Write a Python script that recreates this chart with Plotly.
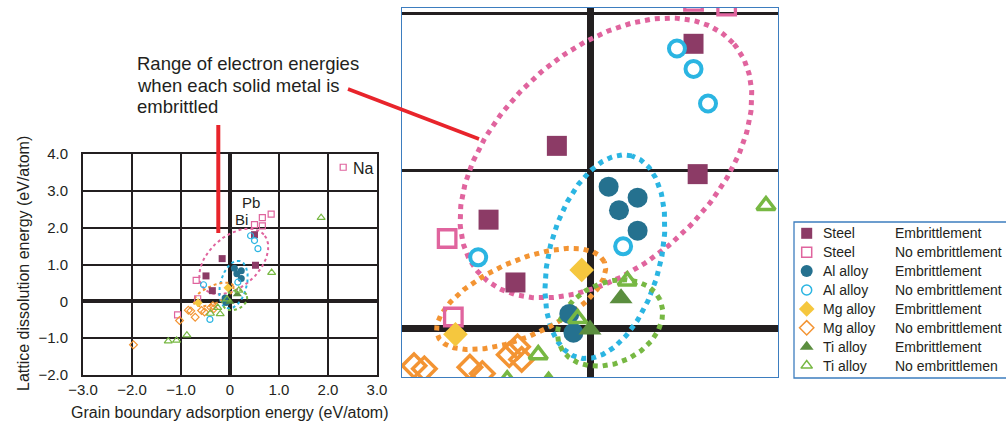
import numpy as np
import plotly.graph_objects as go

W, H = 1006, 426
FONT = "Liberation Sans, Arial, sans-serif"
INK = "#231f20"

# ---------------- data (eV/atom) ----------------
# x = grain boundary adsorption energy, y = lattice dissolution energy
steel_emb_x = [0.50, -0.16, 0.52, -0.49, -0.36]
steel_emb_y = [1.81, 1.16, 0.98, 0.69, 0.29]
steel_no_x = [0.50, 0.66, 0.66, 0.84, -0.69, -0.66, -1.07, 2.31]
steel_no_y = [2.08, 2.05, 2.27, 2.37, 0.57, 0.07, -0.37, 3.64]
al_emb_x = [0.09, 0.23, 0.14, 0.23, -0.10, -0.08]
al_emb_y = [0.90, 0.83, 0.75, 0.62, 0.09, -0.03]
al_no_x = [0.42, 0.50, 0.57, 0.16, -0.54, -0.41]
al_no_y = [1.78, 1.65, 1.43, 0.52, 0.45, -0.49]
mg_emb_x = [-0.04, -0.65]
mg_emb_y = [0.37, -0.04]
mg_no_x = [-1.97, -1.03, -0.85, -0.80, -0.71, -0.58, -0.52, -0.39, -0.35, -0.33]
mg_no_y = [-1.18, -0.52, -0.24, -0.26, -0.43, -0.25, -0.29, -0.17, -0.12, -0.20]
ti_emb_x = [0.15, 0.00]
ti_emb_y = [0.19, -0.01]
ti_no_x = [0.85, 0.18, -0.06, -0.25, 1.86, -1.26, -1.09, -0.88, -0.40, -0.20]
ti_no_y = [0.78, 0.30, 0.06, -0.17, 2.27, -1.08, -1.06, -0.92, -0.33, -0.34]

# embrittlement-range ellipses (centre, semi-axes in x units, angle deg)
ell_cx = [0.077, 0.072, -0.333, 0.097]
ell_cy = [1.083, 0.454, 0.185, 0.032]
ell_a = [0.826, 0.502, 0.44, 0.266]
ell_b = [0.517, 0.268, 0.181, 0.193]
ell_ang = [42, 75, 24, 25]

tick_x = [-3, -2, -1, 0, 1, 2, 3]
tick_x_text = ["\u22123.0", "\u22122.0", "\u22121.0", "0", "1.0", "2.0", "3.0"]
tick_y = [-2, -1, 0, 1, 2, 3, 4]
tick_y_text = ["\u22122.0", "\u22121.0", "0", "1.0", "2.0", "3.0", "4.0"]

legend_alloy = ["Steel", "Steel", "Al alloy", "Al alloy", "Mg alloy", "Mg alloy", "Ti alloy", "Ti alloy"]
legend_state = ["Embrittlement", "No embrittlement", "Embrittlement", "No embrittlement",
                "Embrittlement", "No embrittlement", "Embrittlement", "No embrittlemen"]

# ---------------- styles ----------------
C_STEEL_E, C_STEEL_N = "#8c3b66", "#e0649e"
C_AL_E, C_AL_N = "#25718f", "#2bb5e2"
C_MG_E, C_MG_N = "#f5c73e", "#f39433"
C_TI_E, C_TI_N = "#5b8e3f", "#77b843"
RED = "#e8242b"
BLUE = "#3d7dbf"
K = 0.755  # display ratio (y px per unit / x px per unit)

series = [
    (steel_emb_x, steel_emb_y, "square", C_STEEL_E, True),
    (steel_no_x, steel_no_y, "square-open", C_STEEL_N, False),
    (al_emb_x, al_emb_y, "circle", C_AL_E, True),
    (al_no_x, al_no_y, "circle-open", C_AL_N, False),
    (mg_emb_x, mg_emb_y, "diamond", C_MG_E, True),
    (mg_no_x, mg_no_y, "diamond-open", C_MG_N, False),
    (ti_emb_x, ti_emb_y, "triangle-up", C_TI_E, True),
    (ti_no_x, ti_no_y, "triangle-up-open", C_TI_N, False),
]
ell_colors = [C_STEEL_N, C_AL_N, C_MG_N, C_TI_N]

sizes_small = {"square": (7, 6, 1.2), "circle": (7, 6, 1.2), "diamond": (7, 6, 1.2), "triangle-up": (8, 7, 1.2)}
sizes_big = {"square": (20, 17.5, 3.3), "circle": (20, 16, 4), "diamond": (19, 18, 3.5), "triangle-up": (20, 16, 3.5)}


def ellipse(cx, cy, a, b, ang):
    t = np.linspace(0, 2 * np.pi, 361)
    th = np.radians(ang)
    x = cx + a * np.cos(t) * np.cos(th) - b * np.sin(t) * np.sin(th)
    y = cy + (a * np.cos(t) * np.sin(th) + b * np.sin(t) * np.cos(th)) / K
    return x, y


fig = go.Figure()


def add_panel(xa, ya, sizes, ell_w):
    for cx, cy, a, b, ang, col in zip(ell_cx, ell_cy, ell_a, ell_b, ell_ang, ell_colors):
        ex, ey = ellipse(cx, cy, a, b, ang)
        fig.add_trace(go.Scatter(x=ex, y=ey, mode="lines", xaxis=xa, yaxis=ya,
                                 line=dict(color=col, width=ell_w, dash="dot"),
                                 hoverinfo="skip", showlegend=False))
    for xs, ys, sym, col, filled in series:
        base = sym.replace("-open", "")
        fs, os_, lw = sizes[base]
        if filled:
            mk = dict(symbol=sym, size=fs, color=col, line=dict(width=0))
        else:
            mk = dict(symbol=sym, size=os_, color=col, line=dict(width=lw, color=col))
        fig.add_trace(go.Scatter(x=xs, y=ys, mode="markers", xaxis=xa, yaxis=ya,
                                 marker=mk, showlegend=False))


add_panel("x", "y", sizes_small, 2)
add_panel("x2", "y2", sizes_big, 5)

# ---------------- legend (custom two-column) ----------------
leg_x_marker = 806.7
leg_y0, leg_dy = 233.3, 18.9
leg_sizes = {"square": (11, 10, 1.5), "circle": (12, 10, 1.5), "diamond": (12, 11, 1.5), "triangle-up": (12, 10, 1.5)}
for i, (xs, ys, sym, col, filled) in enumerate(series):
    base = sym.replace("-open", "")
    fs, os_, lw = leg_sizes[base]
    if filled:
        mk = dict(symbol=sym, size=fs, color=col, line=dict(width=0))
    else:
        mk = dict(symbol=sym, size=os_, color=col, line=dict(width=lw, color=col))
    fig.add_trace(go.Scatter(x=[leg_x_marker], y=[leg_y0 + i * leg_dy], mode="markers",
                             xaxis="x3", yaxis="y3", marker=mk, showlegend=False,
                             cliponaxis=False, hoverinfo="skip"))

annotations = []
for i, (al, st) in enumerate(zip(legend_alloy, legend_state)):
    yy = 1 - (leg_y0 + i * leg_dy) / H
    annotations.append(dict(x=821 / W, y=yy, xref="paper", yref="paper", text=al, showarrow=False,
                            xanchor="left", yanchor="middle", font=dict(size=14, color=INK, family=FONT)))
    annotations.append(dict(x=893 / W, y=yy, xref="paper", yref="paper", text=st, showarrow=False,
                            xanchor="left", yanchor="middle", font=dict(size=14, color=INK, family=FONT)))

# callout text
callout = ["Range of electron energies", "when each solid metal is", "embrittled"]
for i, line in enumerate(callout):
    annotations.append(dict(x=135 / W, y=1 - (63.6 + i * 21.4) / H, xref="paper", yref="paper", text=line,
                            showarrow=False, xanchor="left", yanchor="middle",
                            font=dict(size=18.5, color=INK, family=FONT)))

# labels in left panel
annotations.append(dict(x=2.47, y=3.6, xref="x", yref="y", text="Na", showarrow=False, xanchor="left",
                        yanchor="middle", font=dict(size=16, color=INK, family=FONT)))
annotations.append(dict(x=0.42, y=2.69, xref="x", yref="y", text="Pb", showarrow=False,
                        xanchor="center", yanchor="middle", font=dict(size=15, color=INK, family=FONT)))
annotations.append(dict(x=0.23, y=2.21, xref="x", yref="y", text="Bi", showarrow=False,
                        xanchor="center", yanchor="middle", font=dict(size=15, color=INK, family=FONT)))

# axis titles
annotations.append(dict(x=229.5 / W, y=1 - 412 / H, xref="paper", yref="paper",
                        xanchor="center", yanchor="middle",
                        text="Grain boundary adsorption energy (eV/atom)", showarrow=False,
                        font=dict(size=16, color=INK, family=FONT)))
annotations.append(dict(x=23 / W, y=1 - 264 / H, xref="paper", yref="paper", textangle=-90,
                        xanchor="center", yanchor="middle",
                        text="Lattice dissolution energy (eV/atom)", showarrow=False,
                        font=dict(size=16, color=INK, family=FONT)))

shapes = [
    dict(type="line", xref="paper", yref="paper", x0=218.3 / W, x1=218.3 / W, y0=1 - 125 / H, y1=1 - 233 / H,
         line=dict(color=RED, width=4)),
    dict(type="line", xref="paper", yref="paper", x0=348 / W, x1=479 / W, y0=1 - 89 / H, y1=1 - 139 / H,
         line=dict(color=RED, width=3.5)),
    dict(type="rect", xref="paper", yref="paper", x0=794 / W, x1=1.02, y0=1 - 378 / H, y1=1 - 222 / H,
         line=dict(color=BLUE, width=1.3), fillcolor="rgba(0,0,0,0)"),
]

axis_common = dict(showgrid=True, gridcolor=INK, zeroline=True, zerolinecolor=INK,
                   showline=True, mirror=True, automargin=False)

fig.update_layout(
    width=W, height=H, margin=dict(l=0, r=0, t=0, b=0, pad=0, autoexpand=False),
    paper_bgcolor="white", plot_bgcolor="rgba(0,0,0,0)", showlegend=False,
    font=dict(family=FONT, color=INK),
    xaxis=dict(domain=[83 / W, 377 / W], range=[-3, 3], tickvals=tick_x, ticktext=tick_x_text,
               gridwidth=2, zerolinewidth=4, linecolor=INK, linewidth=2,
               ticks="", tickfont=dict(size=15, color=INK, family=FONT), anchor="y", **axis_common),
    yaxis=dict(domain=[1 - 375 / H, 1 - 154 / H], range=[-2, 4], tickvals=tick_y, ticktext=tick_y_text,
               gridwidth=2, zerolinewidth=4, linecolor=INK, linewidth=2,
               ticks="outside", ticklen=10, tickcolor="rgba(0,0,0,0)",
               tickfont=dict(size=15, color=INK, family=FONT), anchor="x", **axis_common),
    xaxis2=dict(domain=[402 / W, 778 / W], range=[-0.908, 0.908], dtick=1, showticklabels=False,
                gridwidth=3, zerolinewidth=7, linecolor=BLUE, linewidth=1.3, anchor="y2", **axis_common),
    yaxis2=dict(domain=[1 - 377 / H, 1 - 8 / H], range=[-0.312, 2.038], dtick=1, showticklabels=False,
                gridwidth=3, zerolinewidth=7, linecolor=BLUE, linewidth=1.3, anchor="x2", **axis_common),
    xaxis3=dict(domain=[0, 1], range=[0, W], visible=False, anchor="y3", automargin=False),
    yaxis3=dict(domain=[0, 1], range=[H, 0], visible=False, anchor="x3", automargin=False),
    annotations=annotations, shapes=shapes,
)

fig.write_html("out.html", config={"displayModeBar": False},
               post_script="document.body.style.margin='0';document.body.style.overflow='hidden';")
